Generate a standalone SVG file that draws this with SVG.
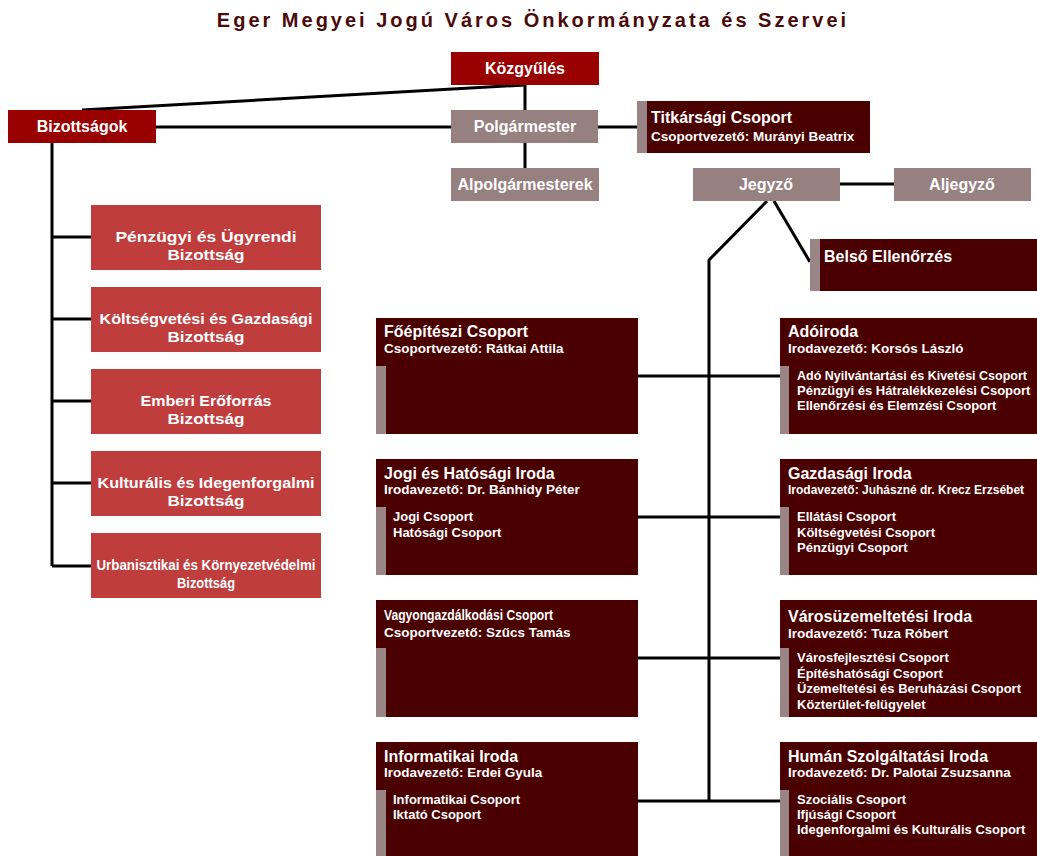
<svg xmlns="http://www.w3.org/2000/svg" width="1037" height="856" viewBox="0 0 1037 856">
<style>
text{font-family:"Liberation Sans",Arial,sans-serif;font-weight:bold;}
.title{font-size:20px;fill:#4a0a0a;letter-spacing:3px;}
.red{fill:#990000;}
.gray{fill:#978080;}
.com{fill:#c03d3e;}
.dark{fill:#4b0000;}
.stripe{fill:#998585;}
.lbl{fill:#fff;font-size:16px;text-anchor:middle;}
.clbl{fill:#fff;font-size:15px;text-anchor:middle;}
.h{fill:#fff;font-size:16px;}
.s{fill:#fff;font-size:13.5px;}
.i{fill:#fff;font-size:13px;}
.ln{stroke:#000;stroke-width:3;fill:none;}
</style>
<rect width="1037" height="856" fill="#fff"/>
<text class="title" x="533" y="27" text-anchor="middle">Eger Megyei Jogú Város Önkormányzata és Szervei</text>

<g id="connectors" class="ln">
<path d="M82,110 L525,85"/>
<path d="M525,85 V110"/>
<path d="M525,143 V168"/>
<path d="M156,127 H451"/>
<path d="M598,127 H637"/>
<path d="M840,184 H894"/>
<path d="M52,143 V566"/>
<path d="M52,237 H91 M52,319 H91 M52,401 H91 M52,483 H91 M52,566 H91"/>
<path d="M767,201 L709,260 V801"/>
<path d="M774,201 L810,262"/>
<path d="M638,376 H780 M638,517 H780 M638,658 H780 M638,801 H780"/>
</g>

<g id="kozgyules"><rect class="red" x="451" y="52" width="148" height="33"/><text class="lbl" x="525" y="74">Közgyűlés</text></g>
<g id="bizottsagok"><rect class="red" x="8" y="110" width="148" height="33"/><text class="lbl" x="82" y="132">Bizottságok</text></g>
<g id="polgarmester"><rect class="gray" x="451" y="110" width="147" height="33"/><text class="lbl" x="525" y="132">Polgármester</text></g>
<g id="alpolgarmesterek"><rect class="gray" x="451" y="168" width="148" height="33"/><text class="lbl" x="525" y="190">Alpolgármesterek</text></g>
<g id="jegyzo"><rect class="gray" x="693" y="168" width="147" height="33"/><text class="lbl" x="766" y="190">Jegyző</text></g>
<g id="aljegyzo"><rect class="gray" x="894" y="168" width="137" height="33"/><text class="lbl" x="962" y="190">Aljegyző</text></g>

<g id="titkarsag"><rect class="dark" x="637" y="101" width="233" height="52"/><rect class="stripe" x="637" y="101" width="10" height="52"/>
<text class="h" x="651" y="123">Titkársági Csoport</text><text class="s" x="651" y="141">Csoportvezető: Murányi Beatrix</text></g>

<g id="belso"><rect class="dark" x="810" y="239" width="227" height="52"/><rect class="stripe" x="810" y="239" width="10" height="52"/>
<text class="h" x="824" y="262">Belső Ellenőrzés</text></g>

<g id="biz1"><rect class="com" x="91" y="205" width="230" height="65"/><text class="clbl" x="206" y="242" textLength="181" lengthAdjust="spacingAndGlyphs">Pénzügyi és Ügyrendi</text><text class="clbl" x="206" y="260" textLength="77" lengthAdjust="spacingAndGlyphs">Bizottság</text></g>
<g id="biz2"><rect class="com" x="91" y="287" width="230" height="65"/><text class="clbl" x="206" y="324" textLength="213" lengthAdjust="spacingAndGlyphs">Költségvetési és Gazdasági</text><text class="clbl" x="206" y="342" textLength="77" lengthAdjust="spacingAndGlyphs">Bizottság</text></g>
<g id="biz3"><rect class="com" x="91" y="369" width="230" height="65"/><text class="clbl" x="206" y="406" textLength="131" lengthAdjust="spacingAndGlyphs">Emberi Erőforrás</text><text class="clbl" x="206" y="424" textLength="77" lengthAdjust="spacingAndGlyphs">Bizottság</text></g>
<g id="biz4"><rect class="com" x="91" y="451" width="230" height="65"/><text class="clbl" x="206" y="488" textLength="217" lengthAdjust="spacingAndGlyphs">Kulturális és Idegenforgalmi</text><text class="clbl" x="206" y="506" textLength="77" lengthAdjust="spacingAndGlyphs">Bizottság</text></g>
<g id="biz5"><rect class="com" x="91" y="533" width="230" height="65"/><text class="clbl" x="206" y="570" style="font-size:14px" textLength="219" lengthAdjust="spacingAndGlyphs">Urbanisztikai és Környezetvédelmi</text><text class="clbl" x="206" y="588" style="font-size:14px" textLength="58" lengthAdjust="spacingAndGlyphs">Bizottság</text></g>

<g id="foepiteszi"><rect class="dark" x="376" y="318" width="262" height="116"/><rect class="stripe" x="376" y="366" width="10" height="68"/>
<text class="h" x="384" y="337">Főépítészi Csoport</text><text class="s" x="384" y="353">Csoportvezető: Rátkai Attila</text></g>

<g id="adoiroda"><rect class="dark" x="780" y="318" width="257" height="116"/><rect class="stripe" x="780" y="366" width="9" height="68"/>
<text class="h" x="788" y="337">Adóiroda</text><text class="s" x="788" y="353">Irodavezető: Korsós László</text>
<text class="i" x="797" y="380" textLength="230" lengthAdjust="spacingAndGlyphs">Adó Nyilvántartási és Kivetési Csoport</text><text class="i" x="797" y="395">Pénzügyi és Hátralékkezelési Csoport</text><text class="i" x="797" y="410">Ellenőrzési és Elemzési Csoport</text></g>

<g id="jogi"><rect class="dark" x="376" y="459" width="262" height="116"/><rect class="stripe" x="376" y="507" width="10" height="68"/>
<text class="h" x="384" y="479">Jogi és Hatósági Iroda</text><text class="s" x="384" y="494">Irodavezető: Dr. Bánhidy Péter</text>
<text class="i" x="393" y="521">Jogi Csoport</text><text class="i" x="393" y="537">Hatósági Csoport</text></g>

<g id="gazdasagi"><rect class="dark" x="780" y="459" width="257" height="116"/><rect class="stripe" x="780" y="507" width="9" height="68"/>
<text class="h" x="788" y="479">Gazdasági Iroda</text><text class="s" x="788" y="494" style="font-size:12px">Irodavezető: Juhászné dr. Krecz Erzsébet</text>
<text class="i" x="797" y="521">Ellátási Csoport</text><text class="i" x="797" y="537">Költségvetési Csoport</text><text class="i" x="797" y="552">Pénzügyi Csoport</text></g>

<g id="vagyon"><rect class="dark" x="376" y="600" width="262" height="117"/><rect class="stripe" x="376" y="648" width="10" height="69"/>
<text class="h" x="384" y="620" style="font-size:15px" textLength="169" lengthAdjust="spacingAndGlyphs">Vagyongazdálkodási Csoport</text><text class="s" x="384" y="637">Csoportvezető: Szűcs Tamás</text></g>

<g id="varosuzem"><rect class="dark" x="780" y="600" width="257" height="117"/><rect class="stripe" x="780" y="648" width="9" height="69"/>
<text class="h" x="788" y="622">Városüzemeltetési Iroda</text><text class="s" x="788" y="638">Irodavezető: Tuza Róbert</text>
<text class="i" x="797" y="662">Városfejlesztési Csoport</text><text class="i" x="797" y="678">Építéshatósági Csoport</text><text class="i" x="797" y="693">Üzemeltetési és Beruházási Csoport</text><text class="i" x="797" y="709">Közterület-felügyelet</text></g>

<g id="informatikai"><rect class="dark" x="376" y="742" width="262" height="114"/><rect class="stripe" x="376" y="790" width="10" height="66"/>
<text class="h" x="384" y="762">Informatikai Iroda</text><text class="s" x="384" y="777">Irodavezető: Erdei Gyula</text>
<text class="i" x="393" y="804">Informatikai Csoport</text><text class="i" x="393" y="819">Iktató Csoport</text></g>

<g id="human"><rect class="dark" x="780" y="742" width="257" height="114"/><rect class="stripe" x="780" y="790" width="9" height="66"/>
<text class="h" x="788" y="762">Humán Szolgáltatási Iroda</text><text class="s" x="788" y="777">Irodavezető: Dr. Palotai Zsuzsanna</text>
<text class="i" x="797" y="804">Szociális Csoport</text><text class="i" x="797" y="819">Ifjúsági Csoport</text><text class="i" x="797" y="834">Idegenforgalmi és Kulturális Csoport</text></g>
</svg>
